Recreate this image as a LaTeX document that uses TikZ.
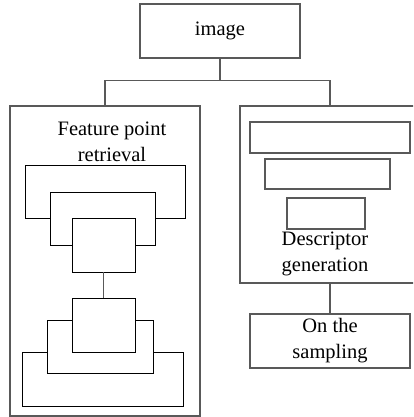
\documentclass[tikz,border=0pt]{standalone}
\usepackage{fontspec}
\setmainfont{Liberation Serif}
\begin{document}
\begin{tikzpicture}[x=1pt,y=-1pt,font=\fontsize{20.5}{26}\selectfont,
    outer box/.style={rectangle,draw=black!65,line width=1.2pt,fill=white,inner sep=0pt},
    inner box/.style={rectangle,draw=black,line width=0.9pt,fill=white,inner sep=0pt},
    label text/.style={align=center,inner sep=0pt}]
            \useasboundingbox (0,0) rectangle (413,417);
            \clip (0,0) rectangle (413,417);
            \node[outer box,minimum width=160pt,minimum height=54pt] (img) at (220,31) {image};
            \node[outer box,minimum width=190pt,minimum height=310pt] (left) at (105,261) {};
            \node[outer box,minimum width=190pt,minimum height=177pt] (right) at (335,194.5) {};
            \node[outer box,minimum width=160pt,minimum height=54pt,align=center] (samp) at (330,341) {On the\\sampling};
            \node[label text] (fpr) at (112,142) {Feature point\\retrieval};
            \node[label text] (dg) at (325,253.5) {Descriptor\\generation};
            \node[inner box,minimum width=160pt,minimum height=53pt] (a) at (105,191.5) {};
            \node[inner box,minimum width=105pt,minimum height=53pt] (b) at (102.5,218.5) {};
            \node[inner box,minimum width=63pt,minimum height=54pt] (c) at (103.5,245) {};
            \node[inner box,minimum width=161pt,minimum height=54pt] (f) at (102.5,379) {};
            \node[inner box,minimum width=106pt,minimum height=53pt] (e) at (100,346.5) {};
            \node[inner box,minimum width=63pt,minimum height=54pt] (d) at (103.5,325) {};
            \node[outer box,minimum width=160pt,minimum height=31pt] (r1) at (330,137.5) {};
            \node[outer box,minimum width=125pt,minimum height=30pt] (r2) at (327.5,174) {};
            \node[outer box,minimum width=78pt,minimum height=31pt] (r3) at (326,213.5) {};
            \draw[black!65,line width=1.2pt] (img.south) -- ++(0,22) coordinate (fork);
            \draw[black!65,line width=1.2pt] (left.north) |- (fork) -| (right.north -| samp.north);
            \draw[black!65,line width=1.2pt] (samp.north) -- (samp.north |- right.south);
            \draw[black!65,line width=0.9pt] (c.south) -- (d.north);
        \end{tikzpicture}
\end{document}
